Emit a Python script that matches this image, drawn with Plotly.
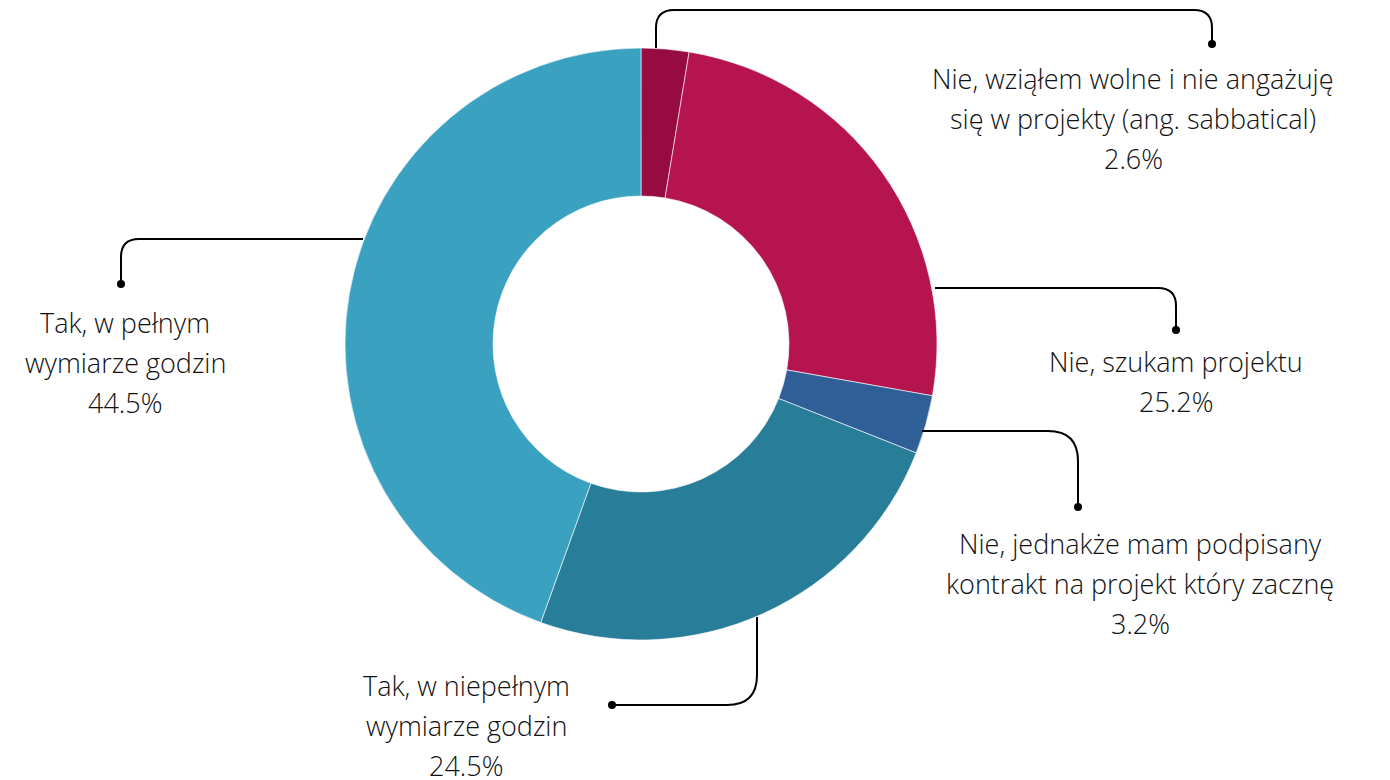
import plotly.graph_objects as go

# ---- data ----
categories = [
    "Nie, wziąłem wolne i nie angażuję się w projekty (ang. sabbatical)",
    "Nie, szukam projektu",
    "Nie, jednakże mam podpisany kontrakt na projekt który zacznę",
    "Tak, w niepełnym wymiarze godzin",
    "Tak, w pełnym wymiarze godzin",
]
values = [2.6, 25.2, 3.2, 24.5, 44.5]
label_lines = [
    ["Nie, wziąłem wolne i nie angażuję", "się w projekty (ang. sabbatical)"],
    ["Nie, szukam projektu"],
    ["Nie, jednakże mam podpisany", "kontrakt na projekt który zacznę"],
    ["Tak, w niepełnym", "wymiarze godzin"],
    ["Tak, w pełnym", "wymiarze godzin"],
]
colors = ["#960c42", "#b5144f", "#2e5f96", "#287d99", "#3ba1c1"]

W, H = 1390, 780
OFF = 8  # page body margin offset
cx, cy, R = 641, 344, 296

# layout of labels (page pixel positions): text center x, first line y, connector path, dot
label_layout = [
    dict(tx=1133, ty=78, path="M 656 48 V 28 Q 656 10 674 10 H 1194 Q 1212 10 1212 28 V 44", dot=(1212, 44)),
    dict(tx=1176, ty=361, path="M 935 288 H 1158 Q 1176 288 1176 306 V 330", dot=(1176, 330)),
    dict(tx=1140, ty=543, path="M 922 431 H 1048 Q 1078 431 1078 461 V 507", dot=(1078, 507)),
    dict(tx=466, ty=685, path="M 757 617 V 675 Q 757 705 727 705 H 612", dot=(612, 705)),
    dict(tx=125, ty=322, path="M 363 239 H 139 Q 121 239 121 257 V 284", dot=(121, 284)),
]

fig = go.Figure()

fig.add_trace(go.Pie(
    labels=categories,
    values=values,
    hole=0.5,
    sort=False,
    direction="clockwise",
    rotation=0,
    textinfo="none",
    marker=dict(colors=colors, line=dict(color="white", width=0.6)),
    domain=dict(x=[(cx - R - OFF) / W, (cx + R - OFF) / W],
                y=[1 - (cy + R - OFF) / H, 1 - (cy - R - OFF) / H]),
    showlegend=False,
    hoverinfo="label+percent",
))

fig.add_trace(go.Scatter(
    x=[l["dot"][0] for l in label_layout],
    y=[l["dot"][1] for l in label_layout],
    mode="markers",
    marker=dict(color="black", size=8),
    showlegend=False,
    hoverinfo="skip",
))

shapes = []
annotations = []
font = dict(family="Open Sans", size=27, color="#111111", weight=300)
line_gap = 40
for lines, val, lay in zip(label_lines, values, label_layout):
    shapes.append(dict(type="path", path=lay["path"], xref="x", yref="y",
                       line=dict(color="black", width=2), layer="above"))
    all_lines = lines + [f"{val}%"]
    for i, t in enumerate(all_lines):
        annotations.append(dict(x=lay["tx"], y=lay["ty"] + i * line_gap, xref="x", yref="y",
                                text=t, showarrow=False, font=font,
                                xanchor="center", yanchor="middle"))

fig.update_layout(
    width=W, height=H,
    margin=dict(l=0, r=0, t=0, b=0),
    paper_bgcolor="white", plot_bgcolor="rgba(0,0,0,0)",
    xaxis=dict(range=[OFF, W + OFF], visible=False, domain=[0, 1], fixedrange=True),
    yaxis=dict(range=[H + OFF, OFF], visible=False, domain=[0, 1], fixedrange=True),
    shapes=shapes,
    annotations=annotations,
)

fig.write_html("out.html")
